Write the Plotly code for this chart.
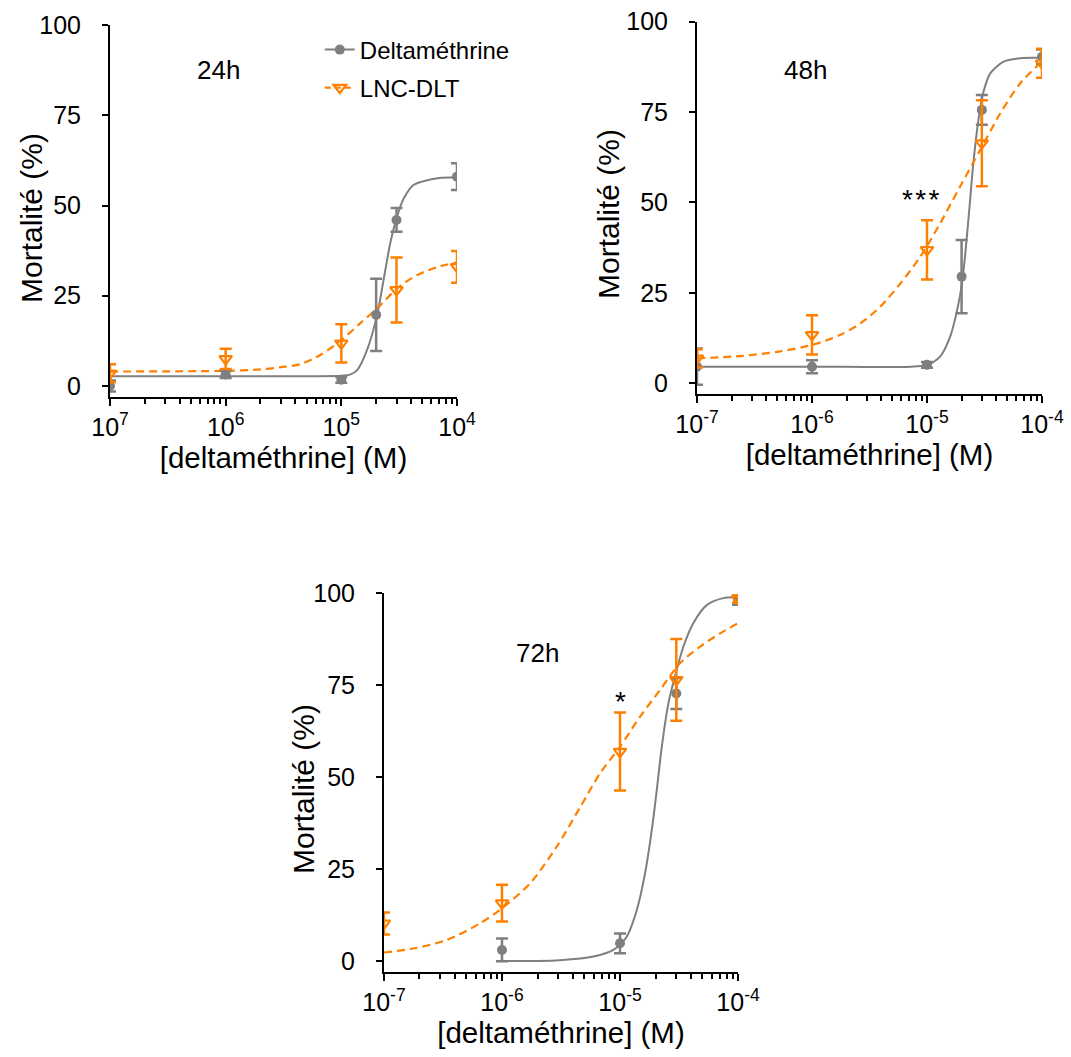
import math
import plotly.graph_objects as go

# ---------------- data ----------------
TICK_VALS = [1e-7, 1e-6, 1e-5, 1e-4]
TICK_TEXT_24H = ["10<sup>7</sup>", "10<sup>6</sup>", "10<sup>5</sup>", "10<sup>4</sup>"]
TICK_TEXT = ["10<sup>-7</sup>", "10<sup>-6</sup>", "10<sup>-5</sup>", "10<sup>-4</sup>"]
Y_TICKS = [0, 25, 50, 75, 100]

SERIES_NAMES = ["Deltaméthrine", "LNC-DLT"]
PANEL_LABELS = ["24h", "48h", "72h"]
X_TITLE = "[deltaméthrine] (M)"
Y_TITLE = "Mortalité (%)"

# 24h
dlt24_x = [1e-7, 1e-6, 1e-5, 2e-5, 3e-5, 1e-4]
dlt24_y = [0.0, 3.2, 1.7, 19.7, 46.0, 58.0]
dlt24_err = [1.5, 1.0, 0.8, 10.0, 3.3, 3.7]
lnc24_x = [1e-7, 1e-6, 1e-5, 3e-5, 1e-4]
lnc24_y = [3.5, 7.5, 11.8, 26.6, 33.0]
lnc24_err = [2.5, 2.8, 5.3, 9.0, 4.4]
dlt24_fit_x = [1e-7, 1e-6, 5e-6, 1e-5, 1.2e-5, 1.37e-5, 1.67e-5, 2.04e-5, 2.32e-5,
               2.65e-5, 3.03e-5, 3.47e-5, 4.2e-5, 5.5e-5, 7e-5, 1e-4]
dlt24_fit_y = [2.7, 2.7, 2.7, 2.8, 3.2, 4.4, 10.0, 19.7, 29.4,
               39.6, 46.9, 52.0, 55.7, 57.0, 57.6, 57.8]
lnc24_fit_x = [1e-7, 1e-6, 2e-6, 3e-6, 4.4e-6, 6.6e-6, 1e-5, 1.46e-5, 2.04e-5,
               3.03e-5, 4.5e-5, 7.2e-5, 1e-4]
lnc24_fit_y = [4.0, 4.2, 4.6, 5.2, 6.0, 8.6, 12.7, 17.4, 21.5,
               27.0, 30.7, 33.2, 34.2]

# 48h
dlt48_x = [1e-7, 1e-6, 1e-5, 2e-5, 3e-5, 1e-4]
dlt48_y = [4.6, 4.6, 5.1, 29.5, 75.6, 90.3]
dlt48_err = [5.0, 1.8, 0.8, 10.1, 4.1, 2.0]
lnc48_x = [1e-7, 1e-6, 1e-5, 3e-5, 1e-4]
lnc48_y = [6.9, 13.4, 36.9, 66.4, 88.5]
lnc48_err = [2.5, 5.4, 8.2, 11.9, 4.0]
dlt48_fit_x = [1e-7, 1e-6, 7.2e-6, 1e-5, 1.3e-5, 1.59e-5, 1.88e-5, 2.05e-5, 2.29e-5,
               2.53e-5, 2.8e-5, 3.1e-5, 3.55e-5, 4.6e-5, 6.45e-5, 1e-4]
dlt48_fit_y = [4.6, 4.6, 4.6, 5.1, 7.4, 12.9, 22.1, 29.5, 45.1,
               60.8, 72.8, 80.6, 85.7, 88.9, 89.9, 90.0]
lnc48_fit_x = [1e-7, 2.5e-7, 5e-7, 1e-6, 1.77e-6, 2.64e-6, 3.93e-6, 5.87e-6, 8.75e-6,
               1.3e-5, 1.94e-5, 2.9e-5, 4.33e-5, 6.45e-5, 1e-4]
lnc48_fit_y = [6.9, 7.6, 8.7, 10.6, 13.4, 16.6, 21.2, 27.6, 35.0,
               44.2, 54.4, 64.5, 74.6, 82.9, 89.0]

# 72h
dlt72_x = [1e-6, 1e-5, 3e-5, 1e-4]
dlt72_y = [3.0, 4.8, 72.7, 97.8]
dlt72_err = [3.1, 2.7, 4.2, 1.0]
lnc72_x = [1e-7, 1e-6, 1e-5, 3e-5, 1e-4]
lnc72_y = [10.2, 15.7, 56.9, 76.4, 98.4]
lnc72_err = [3.0, 5.0, 10.6, 11.1, 1.0]
dlt72_fit_x = [1e-6, 2e-6, 3.1e-6, 5.94e-6, 8.78e-6, 1.14e-5, 1.39e-5, 1.63e-5, 1.86e-5,
               2.05e-5, 2.26e-5, 2.57e-5, 2.92e-5, 3.44e-5, 4.18e-5, 5.43e-5, 7.5e-5, 1e-4]
dlt72_fit_y = [0.0, 0.0, 0.2, 1.2, 3.0, 6.6, 13.9, 23.8, 35.6,
               46.5, 58.2, 70.0, 77.3, 85.4, 91.8, 96.7, 98.6, 98.8]
lnc72_fit_x = [1e-7, 1.77e-7, 3.4e-7, 6.5e-7, 1e-6, 1.73e-6, 2.9e-6, 4.58e-6, 6.78e-6,
               1e-5, 1.48e-5, 2.18e-5, 3.22e-5, 4.76e-5, 7.03e-5, 1e-4]
lnc72_fit_y = [2.3, 3.4, 5.7, 10.2, 14.3, 21.1, 31.0, 41.7, 51.0,
               58.2, 66.4, 73.6, 80.9, 85.4, 89.0, 91.8]

# significance marks
sig_panel = [1, 2]
sig_x = [8.8e-6, 1e-5]
sig_y = [50.8, 70.5]
sig_text = ["*\u200a*\u200a*", "*"]

# panel label positions (x in concentration, y in %)
label_x = [8.6e-7, 8.8e-7, 2.0e-6]
label_y = [87.5, 86.7, 83.7]

# ---------------- style ----------------
GRAY = "#7f7f7f"
ORANGE = "#ff8000"
FONT = "Liberation Sans, Arial, sans-serif"
W, H = 1071, 1057

panels = [
    dict(dx=dlt24_x, dy=dlt24_y, de=dlt24_err, lx=lnc24_x, ly=lnc24_y, le=lnc24_err,
         dfx=dlt24_fit_x, dfy=dlt24_fit_y, lfx=lnc24_fit_x, lfy=lnc24_fit_y),
    dict(dx=dlt48_x, dy=dlt48_y, de=dlt48_err, lx=lnc48_x, ly=lnc48_y, le=lnc48_err,
         dfx=dlt48_fit_x, dfy=dlt48_fit_y, lfx=lnc48_fit_x, lfy=lnc48_fit_y),
    dict(dx=dlt72_x, dy=dlt72_y, de=dlt72_err, lx=lnc72_x, ly=lnc72_y, le=lnc72_err,
         dfx=dlt72_fit_x, dfy=dlt72_fit_y, lfx=lnc72_fit_x, lfy=lnc72_fit_y),
]

x_domains = [[0.1027, 0.4267], [0.6508, 0.9729], [0.3585, 0.6891]]
y_domains = [[0.6246, 0.9763], [0.6271, 0.9795], [0.0804, 0.4390]]
# y-title centre positions in pixels (x, y)
ytitle_px = [(31, 218), (608, 214), (303, 789)]

fig = go.Figure()

for i, p in enumerate(panels):
    xa = "x" if i == 0 else f"x{i+1}"
    ya = "y" if i == 0 else f"y{i+1}"
    fig.add_trace(go.Scatter(x=p["dfx"], y=p["dfy"], mode="lines", xaxis=xa, yaxis=ya,
                             line=dict(color=GRAY, width=2, shape="spline", smoothing=0.8),
                             showlegend=False, hoverinfo="skip"))
    fig.add_trace(go.Scatter(x=p["lfx"], y=p["lfy"], mode="lines", xaxis=xa, yaxis=ya,
                             line=dict(color=ORANGE, width=2.2, dash="8px,5px",
                                       shape="spline", smoothing=0.8),
                             showlegend=False, hoverinfo="skip"))
    fig.add_trace(go.Scatter(x=p["dx"], y=p["dy"], mode="markers", xaxis=xa, yaxis=ya,
                             name=SERIES_NAMES[0],
                             marker=dict(symbol="circle", size=10, color=GRAY),
                             error_y=dict(type="data", array=p["de"], visible=True,
                                          color=GRAY, thickness=2.5, width=6),
                             showlegend=False))
    fig.add_trace(go.Scatter(x=p["lx"], y=p["ly"], mode="markers", xaxis=xa, yaxis=ya,
                             name=SERIES_NAMES[1],
                             marker=dict(symbol="triangle-down-open", size=11, color=ORANGE,
                                         line=dict(width=2.2, color=ORANGE)),
                             error_y=dict(type="data", array=p["le"], visible=True,
                                          color=ORANGE, thickness=2.5, width=6),
                             showlegend=False))

# legend-only entries
fig.add_trace(go.Scatter(x=[None], y=[None], mode="lines+markers", name=SERIES_NAMES[0],
                         line=dict(color=GRAY, width=2),
                         marker=dict(symbol="circle", size=10, color=GRAY),
                         legend="legend"))
fig.add_trace(go.Scatter(x=[None], y=[None], mode="lines+markers", name=SERIES_NAMES[1],
                         line=dict(color=ORANGE, width=2.2, dash="6px,4px"),
                         marker=dict(symbol="triangle-down-open", size=11, color=ORANGE,
                                     line=dict(width=2.2, color=ORANGE)),
                         legend="legend2"))


def xaxis_cfg(i):
    return dict(
        type="log", range=[-7, -4], domain=x_domains[i], anchor="y" if i == 0 else f"y{i+1}",
        automargin=False,
        showline=True, linecolor="black", linewidth=2,
        ticks="outside", ticklen=7, tickwidth=2, tickcolor="black",
        tickmode="array", tickvals=TICK_VALS,
        ticktext=TICK_TEXT_24H if i == 0 else TICK_TEXT,
        tickfont=dict(family=FONT, size=25, color="black"),
        minor=dict(ticks="outside", ticklen=5, tickwidth=1.5, tickcolor="black",
                   dtick="D1", showgrid=False),
        showgrid=False, zeroline=False,
        title=dict(text=X_TITLE, font=dict(family=FONT, size=29.5, color="black"), standoff=2),
    )


def yaxis_cfg(i):
    return dict(
        range=[-3, 100], domain=y_domains[i], anchor="x" if i == 0 else f"x{i+1}",
        automargin=False,
        showline=True, linecolor="black", linewidth=2,
        ticks="outside", ticklen=6, tickwidth=2, tickcolor="black",
        tickmode="array", tickvals=Y_TICKS,
        tickfont=dict(family=FONT, size=25, color="black"),
        ticklabelstandoff=16,
        showgrid=False, zeroline=False,
    )


annotations = []
axis_keys = [("x", "y"), ("x2", "y2"), ("x3", "y3")]
for i, lab in enumerate(PANEL_LABELS):
    annotations.append(dict(text=lab, xref=axis_keys[i][0], yref=axis_keys[i][1],
                            x=math.log10(label_x[i]), y=label_y[i], showarrow=False,
                            font=dict(family=FONT, size=26, color="black")))
for k in range(len(sig_text)):
    pi = sig_panel[k]
    annotations.append(dict(text=sig_text[k], xref=axis_keys[pi][0], yref=axis_keys[pi][1],
                            x=math.log10(sig_x[k]), y=sig_y[k], showarrow=False,
                            font=dict(family=FONT, size=28, color="black")))
for (px, py) in ytitle_px:
    annotations.append(dict(text=Y_TITLE, xref="paper", yref="paper",
                            x=px / W, y=1 - py / H, xanchor="center", yanchor="middle",
                            textangle=-90, showarrow=False,
                            font=dict(family=FONT, size=30, color="black")))

fig.update_layout(
    width=W, height=H, autosize=False,
    margin=dict(l=0, r=0, t=0, b=0, autoexpand=False),
    paper_bgcolor="white", plot_bgcolor="white",
    font=dict(family=FONT, color="black"),
    xaxis=xaxis_cfg(0), yaxis=yaxis_cfg(0),
    xaxis2=xaxis_cfg(1), yaxis2=yaxis_cfg(1),
    xaxis3=xaxis_cfg(2), yaxis3=yaxis_cfg(2),
    legend=dict(x=0.2986, y=0.9527, xanchor="left", yanchor="middle",
                font=dict(family=FONT, size=24, color="black"),
                bgcolor="rgba(0,0,0,0)", itemwidth=30),
    legend2=dict(x=0.2986, y=0.9167, xanchor="left", yanchor="middle",
                 font=dict(family=FONT, size=24, color="black"),
                 bgcolor="rgba(0,0,0,0)", itemwidth=30),
    annotations=annotations,
    showlegend=True,
)

fig.write_html("out.html", config={"displayModeBar": False},
               post_script="document.body.style.margin='0px';")
